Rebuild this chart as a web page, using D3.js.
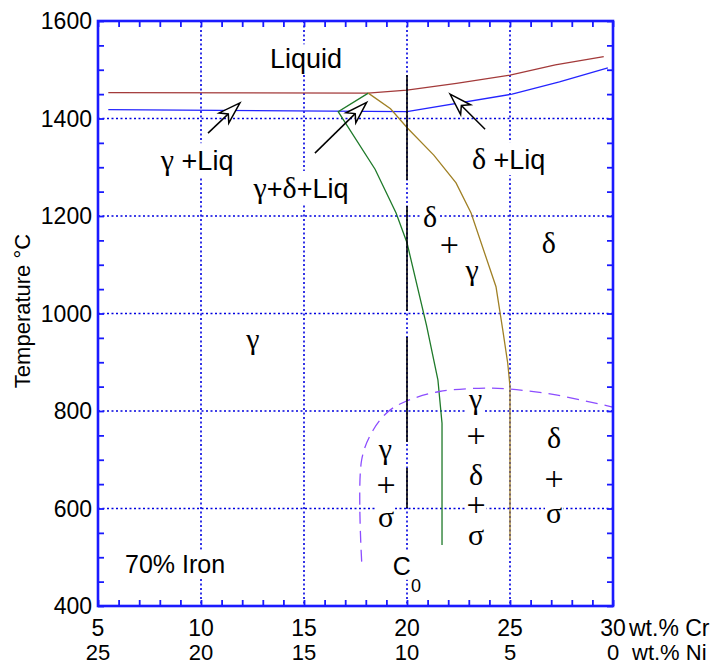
<!DOCTYPE html>
<html>
<head>
<meta charset="utf-8">
<script src="https://cdn.jsdelivr.net/npm/d3@7"></script>
<style>
  body { margin: 0; background: #fff; }
  svg { display: block; }
</style>
</head>
<body>
<div id="chart"></div>
<script>
// axis values
const crTicks = [5, 10, 15, 20, 25, 30];
const niTicks = [25, 20, 15, 10, 5, 0];
const tempTicks = [400, 600, 800, 1000, 1200, 1400, 1600];
const gridCr = [10, 15, 20, 25];
const gridTemp = [600, 800, 1000, 1200, 1400];

// phase boundaries, [wt.% Cr, temperature]
const liquidus = [[5.5, 1453], [18.1, 1452], [20, 1458], [22.4, 1472], [25, 1489], [27.2, 1510], [29.55, 1527]];
const solidus = [[5.5, 1418], [20, 1414], [25.1, 1450], [27.4, 1475], [29.75, 1504]];
const gammaBoundary = [[18.12, 1452], [16.66, 1414], [18.45, 1296], [19.47, 1206], [20.0, 1145], [20.95, 975], [21.5, 864], [21.7, 775], [21.7, 525]];
const deltaBoundary = [[18.12, 1452], [19.2, 1420], [20.03, 1380], [21.3, 1325], [22.38, 1268], [23.11, 1206], [24.32, 1055], [24.65, 966], [24.89, 898], [25.0, 850], [25.0, 535]];
const sigmaBoundary = [[17.8, 491], [17.8, 700], [18.36, 761], [19.09, 799], [19.9, 819], [21.57, 840], [24.0, 847], [25.0, 845], [27.23, 833], [29.98, 808]];
const c0Line = [[20, 1489], [20, 601]];

// arrows: tail -> tip
const arrows = [
  { from: [10.34, 1370], to: [11.89, 1432] },
  { from: [15.53, 1329], to: [18.04, 1433] },
  { from: [23.79, 1378], to: [22.09, 1450] }
];

// region labels (s = sans, g = greek/serif)
const textLabels = [
  { x: 15.1, t: 1503, anchor: "middle", parts: [["Liquid", "s"]] },
  { x: 8.05, t: 1294, anchor: "start", parts: [["γ", "g"], [" +Liq", "s"]] },
  { x: 12.55, t: 1237, anchor: "start", parts: [["γ", "g"], ["+", "s"], ["δ", "g"], ["+Liq", "s"]] },
  { x: 23.15, t: 1296, anchor: "start", parts: [["δ", "g"], [" +Liq", "s"]] },
  { x: 6.31, t: 468, anchor: "start", size: 25, parts: [["70% Iron", "s"]] }
];

const greekLabels = [
  { x: 12.52, t: 927, s: "γ" },
  { x: 21.12, t: 1177, s: "δ" },
  { x: 22.06, t: 1118, s: "+" },
  { x: 23.16, t: 1068, s: "γ" },
  { x: 26.89, t: 1124, s: "δ" },
  { x: 18.95, t: 702, s: "γ" },
  { x: 18.98, t: 626, s: "+" },
  { x: 18.98, t: 563, s: "σ" },
  { x: 23.33, t: 805, s: "γ" },
  { x: 23.35, t: 726, s: "+" },
  { x: 23.35, t: 648, s: "δ" },
  { x: 23.35, t: 585, s: "+" },
  { x: 23.35, t: 525, s: "σ" },
  { x: 27.14, t: 724, s: "δ" },
  { x: 27.14, t: 638, s: "+" },
  { x: 27.14, t: 570, s: "σ" }
];

const SANS = "'Liberation Sans', Arial, sans-serif";
const SERIF = "'Liberation Serif', 'Times New Roman', serif";
const BLUE = "#1a1aff";
const GREEK_SIZE = 30;

const width = 716, height = 666;
const svg = d3.select("#chart").append("svg")
  .attr("width", width).attr("height", height);

const x = d3.scaleLinear().domain([5, 30]).range([98, 613]);
const y = d3.scaleLinear().domain([400, 1600]).range([606, 21]);

const gridLayer = svg.append("g");
const maskLayer = svg.append("g");
const curveLayer = svg.append("g");
const textLayer = svg.append("g");
const axisLayer = svg.append("g");

// grid
gridLayer.selectAll(".gx").data(gridCr).join("line")
  .attr("x1", d => x(d)).attr("x2", d => x(d))
  .attr("y1", y(1600)).attr("y2", y(400));
gridLayer.selectAll(".gy").data(gridTemp).join("line")
  .attr("x1", x(5)).attr("x2", x(30))
  .attr("y1", d => y(d)).attr("y2", d => y(d));
gridLayer.selectAll("line")
  .attr("stroke", "#0000e0").attr("stroke-width", 1.6)
  .attr("stroke-dasharray", "2,2.5");

// curves
const line = d3.line().x(d => x(d[0])).y(d => y(d[1]));
const addCurve = (data, color) => {
  curveLayer.append("path")
    .attr("d", line(data))
    .attr("fill", "none").attr("stroke", color).attr("stroke-width", 1.3);
};
addCurve(liquidus, "#a33a3a");
addCurve(solidus, "#2424ff");
addCurve(gammaBoundary, "#1f7a2a");
addCurve(deltaBoundary, "#a08025");
curveLayer.append("path")
  .attr("d", line.curve(d3.curveCatmullRom.alpha(0.5))(sigmaBoundary))
  .attr("fill", "none").attr("stroke", "#8c4dff").attr("stroke-width", 1.3)
  .attr("stroke-dasharray", "12,7");
line.curve(d3.curveLinear);
curveLayer.append("path")
  .attr("d", line(c0Line))
  .attr("fill", "none").attr("stroke", "#000").attr("stroke-width", 1.6)
  .attr("stroke-dasharray", "105,26");

// arrows
arrows.forEach(a => {
  const x0 = x(a.from[0]), y0 = y(a.from[1]);
  const x1 = x(a.to[0]), y1 = y(a.to[1]);
  const len = Math.hypot(x1 - x0, y1 - y0);
  const ux = (x1 - x0) / len, uy = (y1 - y0) / len;
  const px = -uy, py = ux;
  const L = 22, w = 7, n = 16;
  const notch = [x1 - ux * n, y1 - uy * n];
  curveLayer.append("line")
    .attr("x1", x0).attr("y1", y0).attr("x2", notch[0]).attr("y2", notch[1])
    .attr("stroke", "#000").attr("stroke-width", 1.5);
  const pts = [
    [x1, y1],
    [x1 - ux * L + px * w, y1 - uy * L + py * w],
    notch,
    [x1 - ux * L - px * w, y1 - uy * L - py * w]
  ];
  curveLayer.append("polygon")
    .attr("points", pts.map(p => p.join(",")).join(" "))
    .attr("fill", "#fff").attr("stroke", "#000").attr("stroke-width", 1.5)
    .attr("stroke-linejoin", "miter");
});

// white boxes behind labels so the grid breaks around them
const maskBehind = (sel) => {
  const b = sel.node().getBBox();
  maskLayer.append("rect")
    .attr("x", b.x - 1).attr("y", b.y).attr("width", b.width + 2).attr("height", b.height)
    .attr("fill", "#fff");
};

textLabels.forEach(l => {
  const size = l.size || 27;
  const t = textLayer.append("text")
    .attr("x", x(l.x)).attr("y", y(l.t))
    .attr("text-anchor", l.anchor)
    .attr("fill", "#000");
  l.parts.forEach(p => {
    t.append("tspan")
      .attr("font-family", p[1] === "g" ? SERIF : SANS)
      .attr("font-size", p[1] === "g" ? GREEK_SIZE : size)
      .text(p[0]);
  });
  maskBehind(t);
});

greekLabels.forEach(l => {
  const t = textLayer.append("text")
    .attr("x", x(l.x)).attr("y", y(l.t))
    .attr("text-anchor", "middle")
    .attr("font-family", SERIF).attr("font-size", l.s === "+" ? 34 : GREEK_SIZE)
    .attr("fill", "#000")
    .text(l.s);
  maskBehind(t);
});

// C0 marker label
const c0 = textLayer.append("text")
  .attr("x", x(19.31)).attr("y", y(464))
  .attr("font-family", SANS).attr("font-size", 25).attr("fill", "#000")
  .text("C");
maskBehind(c0);
const c0sub = textLayer.append("text")
  .attr("x", x(20.19)).attr("y", y(429))
  .attr("font-family", SANS).attr("font-size", 18).attr("fill", "#000")
  .text("0");
maskBehind(c0sub);

// ticks on all four sides, pointing inward
const minorCr = d3.range(5, 31, 1);
const minorTemp = d3.range(400, 1601, 50);
const tickAxis = (axis, transform) => {
  const g = axisLayer.append("g").attr("transform", transform)
    .call(axis.tickSize(-6).tickFormat(""));
  g.select(".domain").remove();
  g.selectAll(".tick line").attr("stroke", BLUE).attr("stroke-width", 1.8);
};
tickAxis(d3.axisBottom(x).tickValues(minorCr), `translate(0,${y(400)})`);
tickAxis(d3.axisTop(x).tickValues(minorCr), `translate(0,${y(1600)})`);
tickAxis(d3.axisLeft(y).tickValues(minorTemp), `translate(${x(5)},0)`);
tickAxis(d3.axisRight(y).tickValues(minorTemp), `translate(${x(30)},0)`);

// frame
axisLayer.append("rect")
  .attr("x", x(5)).attr("y", y(1600))
  .attr("width", x(30) - x(5)).attr("height", y(400) - y(1600))
  .attr("fill", "none").attr("stroke", BLUE).attr("stroke-width", 2.6);

// tick labels
axisLayer.selectAll(".ty").data(tempTicks).join("text")
  .attr("x", x(5) - 6).attr("y", d => y(d)).attr("dy", "0.36em")
  .attr("text-anchor", "end")
  .attr("font-family", SANS).attr("font-size", 23).attr("fill", "#000")
  .text(d => d);
axisLayer.selectAll(".tcr").data(crTicks).join("text")
  .attr("x", d => x(d)).attr("y", 636)
  .attr("text-anchor", "middle")
  .attr("font-family", SANS).attr("font-size", 23).attr("fill", "#000")
  .text(d => d);
axisLayer.selectAll(".tni").data(niTicks).join("text")
  .attr("x", (d, i) => x(crTicks[i])).attr("y", 660)
  .attr("text-anchor", "middle")
  .attr("font-family", SANS).attr("font-size", 22).attr("fill", "#000")
  .text(d => d);

axisLayer.append("text")
  .attr("x", 629).attr("y", 636)
  .attr("font-family", SANS).attr("font-size", 23).attr("fill", "#000")
  .text("wt.% Cr");
axisLayer.append("text")
  .attr("x", 632).attr("y", 660)
  .attr("font-family", SANS).attr("font-size", 22).attr("fill", "#000")
  .text("wt.% Ni");

axisLayer.append("text")
  .attr("transform", "translate(30,311) rotate(-90)")
  .attr("text-anchor", "middle")
  .attr("font-family", SANS).attr("font-size", 22).attr("fill", "#000")
  .text("Temperature °C");
</script>
</body>
</html>
